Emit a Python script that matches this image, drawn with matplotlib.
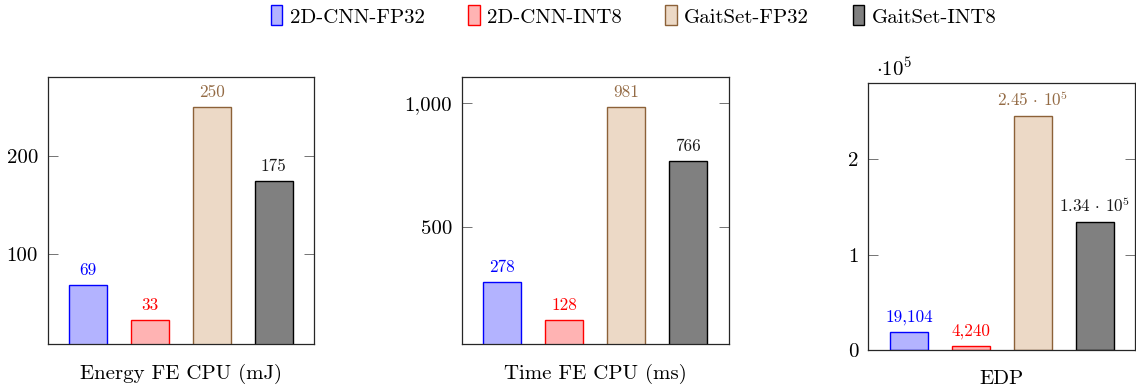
import matplotlib
matplotlib.use("Agg")
import matplotlib.pyplot as plt
from matplotlib.ticker import FixedLocator, FuncFormatter

plt.rcParams['font.family'] = ['cmr10', 'DejaVu Serif']
plt.rcParams['mathtext.fontset'] = 'cm'
plt.rcParams['axes.formatter.use_mathtext'] = True
plt.rcParams['axes.unicode_minus'] = False

# ---------------- data ----------------
categories = ['2D-CNN-FP32', '2D-CNN-INT8', 'GaitSet-FP32', 'GaitSet-INT8']
energy_mj = [69, 33, 250, 175]
time_ms = [278, 128, 981, 766]
edp = [19104, 4240, 245000, 134000]

energy_ticks = [100, 200]
time_ticks = [500, 1000]
edp_ticks = [0, 100000, 200000]

xlabels = ['Energy FE CPU (mJ)', 'Time FE CPU (ms)', 'EDP']

# ---------------- styles ----------------
edge_colors = [(0, 0, 1), (1, 0, 0), (0.55, 0.38, 0.22), (0, 0, 0)]
fill_colors = [(0.7, 0.7, 1.0), (1.0, 0.7, 0.7), (0.925, 0.85, 0.775), (0.5, 0.5, 0.5)]
label_colors = [(0, 0, 1), (1, 0, 0), (0.58, 0.42, 0.27), (0.1, 0.1, 0.1)]

FS = 15.0
NFS = 12.3

W, H = 1136, 386
fig = plt.figure(figsize=(W / 100, H / 100), dpi=100)


def rect(left, top, right, bottom):
    return [left / W, 1 - bottom / H, (right - left) / W, (bottom - top) / H]


axes_px = [
    (47.7, 77.3, 314.3, 344.3),
    (461.7, 77.3, 729.0, 344.3),
    (868.3, 83.3, 1135.3, 350.3),
]
ylims = [(8.4, 280.0), (28.3, 1102.0), (0, 279600)]
datasets = [energy_mj, time_ms, edp]
tick_sets = [energy_ticks, time_ticks, edp_ticks]


def fmt_plain(v):
    return f"{v:,.0f}"


def fmt_edp_tick(v):
    return f"{v / 1e5:.0f}"


def fmt_node(v):
    if v >= 1e5:
        exp = 5
        return r"$%.2f\,\cdot\,10^{%d}$" % (v / 10 ** exp, exp)
    return f"{v:,.0f}"


xs = list(range(len(categories)))
handles = []
for i, (px, yl, data, ticks, xl) in enumerate(zip(axes_px, ylims, datasets, tick_sets, xlabels)):
    ax = fig.add_axes(rect(*px))
    bars = ax.bar(xs, data, width=0.613, color=fill_colors, edgecolor=edge_colors,
                  linewidth=1.0, zorder=2)
    if i == 0:
        handles = list(bars)
    ax.set_xlim(-0.655, 3.655)
    ax.set_ylim(*yl)
    ax.set_xticks([])
    ax.yaxis.set_major_locator(FixedLocator(ticks))
    if i == 2:
        ax.yaxis.set_major_formatter(FuncFormatter(lambda v, p: fmt_edp_tick(v)))
        ax.text(0.03, 1.012, r"$\cdot10^{5}$", transform=ax.transAxes,
                fontsize=FS, ha='left', va='bottom')
    else:
        ax.yaxis.set_major_formatter(FuncFormatter(lambda v, p: fmt_plain(v)))
    ax.tick_params(axis='y', which='major', direction='in', length=7, width=0.7,
                   color='0.45', labelsize=FS, pad=7, right=True, left=True)
    for sp in ax.spines.values():
        sp.set_linewidth(0.9)
        sp.set_color('0.15')
    ax.set_xlabel(xl, fontsize=FS, labelpad=14)
    for x, v, c in zip(xs, data, label_colors):
        ax.annotate(fmt_node(v), (x, v), xytext=(0, 5), textcoords='offset points',
                    ha='center', va='bottom', fontsize=NFS, color=c)

fig.legend(handles, categories, loc='center', bbox_to_anchor=(0.5577, 1 - 16 / H),
           ncol=4, frameon=False, fontsize=FS, handlelength=0.55, handleheight=1.1,
           handletextpad=0.35, columnspacing=2.1, borderaxespad=0)

fig.savefig('out.png', dpi=100)
